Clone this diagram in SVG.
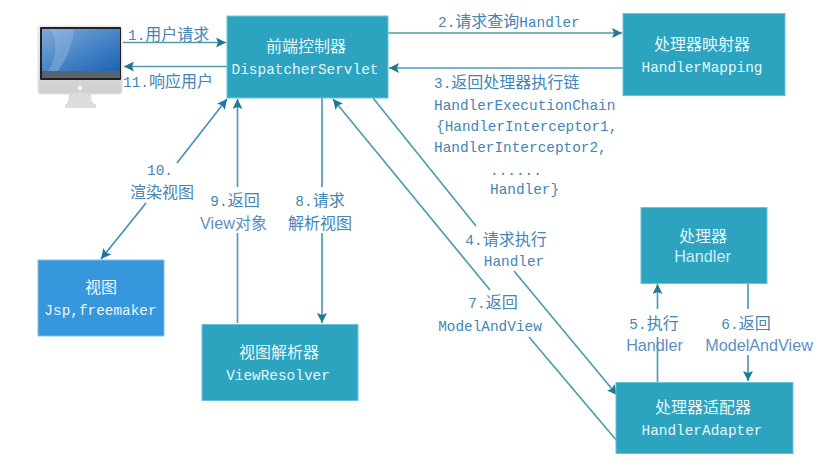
<svg xmlns="http://www.w3.org/2000/svg" width="823" height="473" viewBox="0 0 823 473">
<defs>
<marker id="a" markerUnits="userSpaceOnUse" markerWidth="12" markerHeight="10" refX="10" refY="5" orient="auto"><path d="M0 0L10 5L0 10L2 5Z" fill="#1f7a8f"/></marker>
<marker id="b" markerUnits="userSpaceOnUse" markerWidth="12" markerHeight="10" refX="10" refY="5" orient="auto"><path d="M0 0L10 5L0 10L2 5Z" fill="#2274a8"/></marker>
<linearGradient id="scr" x1="0" y1="0" x2="1" y2="1"><stop offset="0" stop-color="#7fa9d6"/><stop offset=".5" stop-color="#4a86c8"/><stop offset="1" stop-color="#1c62b0"/></linearGradient>
<linearGradient id="body" x1="0" y1="0" x2="0" y2="1"><stop offset="0" stop-color="#f0f0f0"/><stop offset="1" stop-color="#cfcfcf"/></linearGradient>
</defs>
<style>
.n{fill:#2ca3bf;stroke:#6cc3d8;stroke-width:1}
.v{fill:#3797dc;stroke:#7fc0ee;stroke-width:1}
.c{fill:none;stroke:#4f9db0;stroke-width:1.7}
.t{font-family:"Noto Sans CJK SC",sans-serif;font-size:16px;fill:#e9f6fa;text-anchor:middle}
.tm{font-family:"Liberation Mono","Noto Sans CJK SC",monospace;font-size:14.4px;fill:#e9f6fa;text-anchor:middle}
.ts{font-family:"Liberation Sans",sans-serif;font-size:16.200px;fill:#d5edf4;text-anchor:middle}
.l{font-family:"Liberation Mono","Noto Sans CJK SC",monospace;font-size:14.4px;fill:#4585b5}
.lz{font-family:"Noto Sans CJK SC",sans-serif;font-size:16px;fill:#4585b5}
.ls{font-family:"Liberation Sans","Noto Sans CJK SC",sans-serif;font-size:16.200px;fill:#5f8fc0}
.z{font-family:"Noto Sans CJK SC",sans-serif;font-size:16px}
.m{text-anchor:middle}
</style>
<rect width="823" height="473" fill="#fff"/>
<g id="connectors">
<path class="c" d="M123 42.500H226" marker-end="url(#a)"/>
<path class="c" d="M227 66.500H124" marker-end="url(#a)"/>
<path class="c" d="M388 33H622" marker-end="url(#a)"/>
<path class="c" d="M623 68H389" marker-end="url(#a)"/>
<path class="c" d="M177 163L227 99" marker-end="url(#b)" style="stroke:#4a8fb8"/>
<path class="c" d="M146 203L101 259" marker-end="url(#b)" style="stroke:#4a8fb8"/>
<path class="c" d="M237.500 187V99" marker-end="url(#a)"/>
<path class="c" d="M237.500 233V323"/>
<path class="c" d="M322 98V187"/>
<path class="c" d="M322 233V323" marker-end="url(#a)"/>
<path class="c" d="M373 98L476 226"/>
<path class="c" d="M514 271L617 395" marker-end="url(#a)"/>
<path class="c" d="M490 290L333 99" marker-end="url(#a)"/>
<path class="c" d="M529 337L617 441"/>
<path class="c" d="M657.500 382V337"/>
<path class="c" d="M657.500 309V284" marker-end="url(#a)"/>
<path class="c" d="M748 283V309"/>
<path class="c" d="M748 355V381" marker-end="url(#a)"/>
</g>
<g id="client">
<rect x="38" y="26" width="84" height="68" rx="3" fill="url(#body)" stroke="#e2e2e2"/>
<path d="M69 94H91L92 102L96 105V108H65V105L68 102Z" fill="#dcdcdc"/>
<rect x="40" y="27" width="81" height="53" rx="1" fill="#222"/>
<rect x="42" y="29" width="78" height="42" fill="url(#scr)"/>
<path d="M50 29Q62 48 48 71H58Q72 52 74 29Z" fill="#a9c6e4" opacity=".35"/>
<rect x="42" y="71" width="78" height="7" fill="#5a646e"/>
<circle cx="80" cy="88" r="2" fill="#fff"/>
</g>
<g id="controller">
<rect class="n" x="227" y="16" width="161" height="82"/>
<text class="t" x="306" y="52">前端控制器</text>
<text class="tm" x="305" y="74">DispatcherServlet</text>
</g>
<g id="mapping">
<rect class="n" x="623" y="13.500" width="162" height="82"/>
<text class="t" x="702" y="50">处理器映射器</text>
<text class="tm" x="702" y="72">HandlerMapping</text>
</g>
<g id="handler">
<rect class="n" x="641" y="207.500" width="126" height="76"/>
<text class="t" x="703" y="242">处理器</text>
<text class="ts" x="702.500" y="262">Handler</text>
</g>
<g id="adapter">
<rect class="n" x="616" y="382.500" width="177" height="71"/>
<text class="t" x="703" y="413">处理器适配器</text>
<text class="tm" x="702" y="435">HandlerAdapter</text>
</g>
<g id="view">
<rect class="v" x="38" y="260" width="126" height="76"/>
<text class="t" x="101" y="293">视图</text>
<text class="tm" x="100.500" y="315">Jsp,freemaker</text>
</g>
<g id="resolver">
<rect class="n" x="202" y="324.500" width="156" height="76"/>
<text class="t" x="279" y="358">视图解析器</text>
<text class="tm" x="278" y="380">ViewResolver</text>
</g>
<g id="labels">
<text class="l" x="128" y="40">1.<tspan class="z">用户请求</tspan></text>
<text class="l" x="123" y="87">11.<tspan class="z">响应用户</tspan></text>
<text class="l" x="438" y="27">2.<tspan class="z">请求查询</tspan>Handler</text>
<text class="l" x="434" y="88">3.<tspan class="z">返回处理器执行链</tspan></text>
<text class="l" x="434" y="110">HandlerExecutionChain</text>
<text class="l" x="436" y="131">{HandlerInterceptor1,</text>
<text class="l" x="434" y="152">HandlerInterceptor2,</text>
<text class="l" x="490" y="175">......</text>
<text class="l" x="490" y="194">Handler}</text>
<text class="l m" x="160" y="175">10.</text>
<text class="lz m" x="162" y="198">渲染视图</text>
<text class="l m" x="235" y="206">9.<tspan class="z">返回</tspan></text>
<text class="ls m" x="233.500" y="229">View<tspan class="z">对象</tspan></text>
<text class="l m" x="320" y="206">8.<tspan class="z">请求</tspan></text>
<text class="lz m" x="320" y="229">解析视图</text>
<text class="l m" x="506" y="245">4.<tspan class="z">请求执行</tspan></text>
<text class="l m" x="514" y="266">Handler</text>
<text class="l m" x="493" y="308">7.<tspan class="z">返回</tspan></text>
<text class="l m" x="490" y="331">ModelAndView</text>
<text class="l m" x="654" y="329">5.<tspan class="z">执行</tspan></text>
<text class="ls m" x="654.500" y="351">Handler</text>
<text class="l m" x="746" y="329">6.<tspan class="z">返回</tspan></text>
<text class="ls m" x="759" y="351">ModelAndView</text>
</g>
</svg>
